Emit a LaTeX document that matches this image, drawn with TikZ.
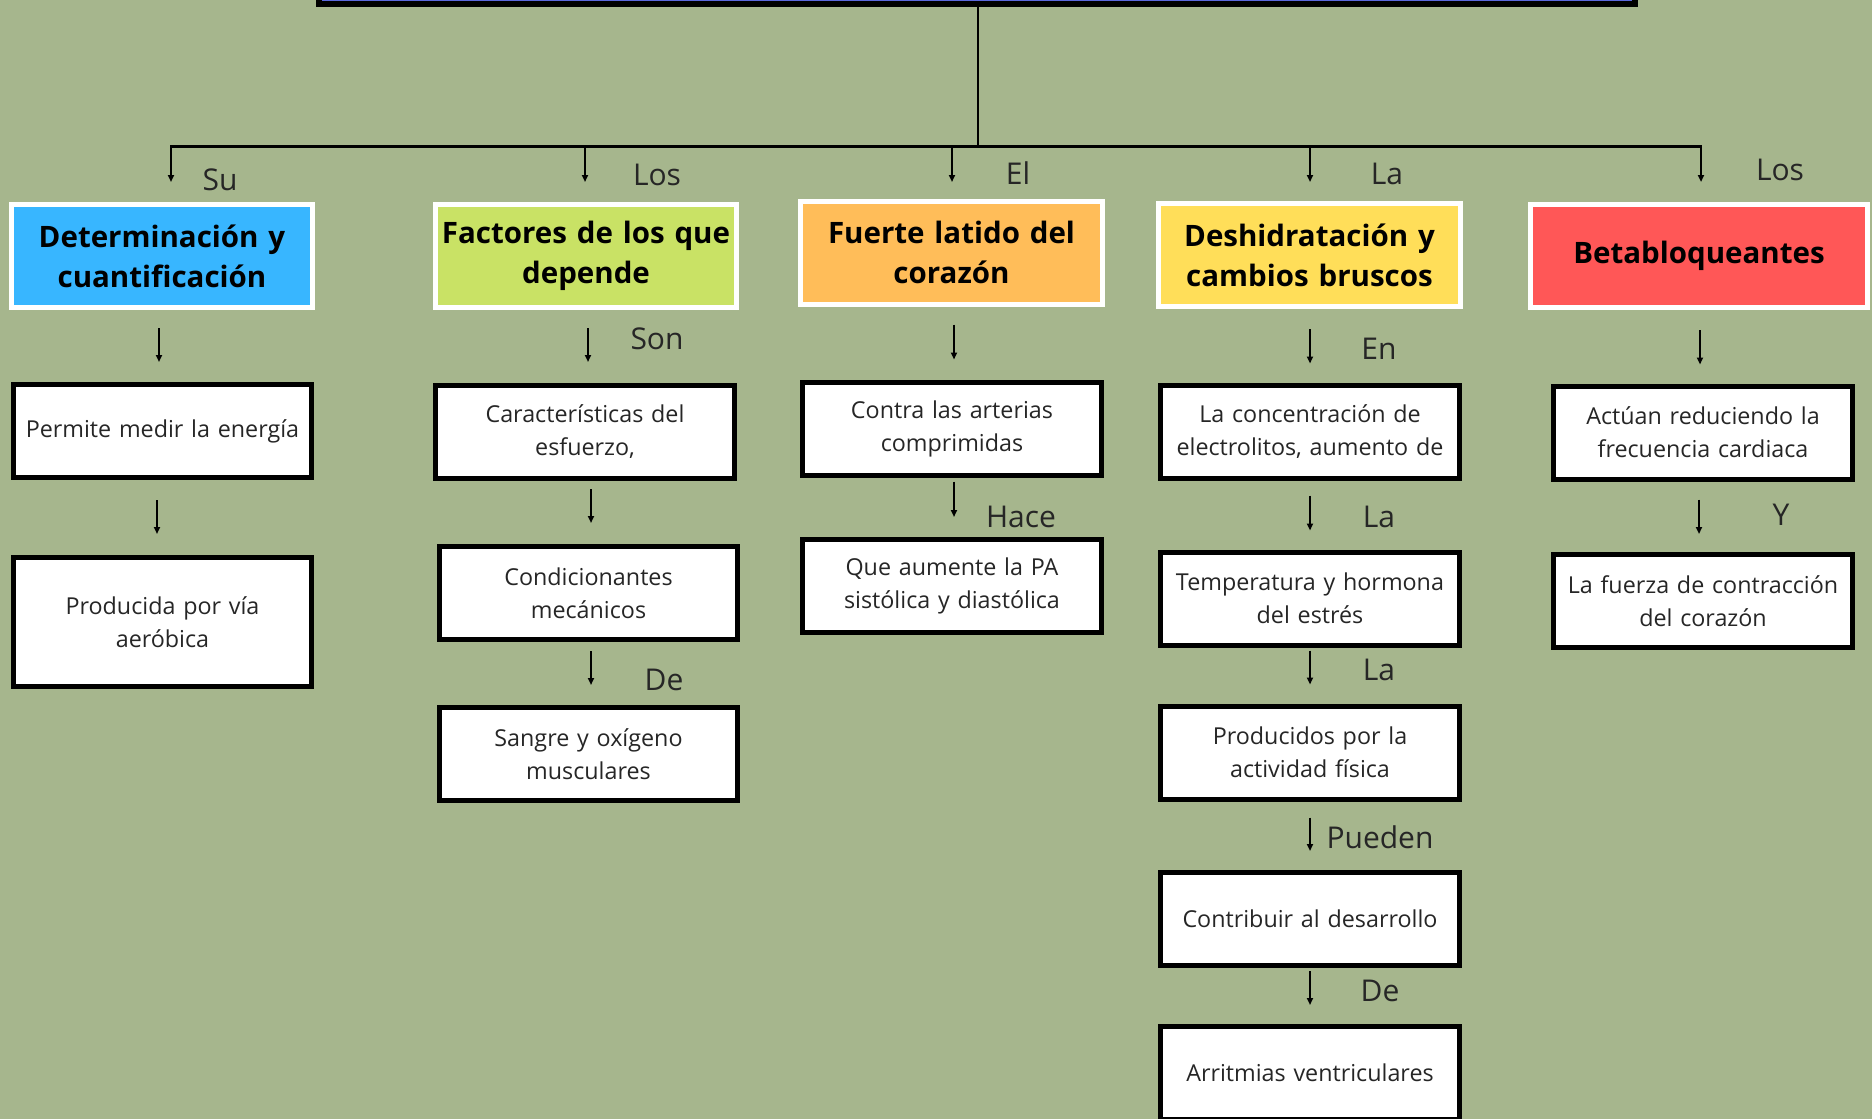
\documentclass[tikz,border=0pt]{standalone}
\usepackage{fontspec}
\setmainfont{Open Sans}
\usepackage{xcolor}
\usetikzlibrary{arrows.meta}
\definecolor{SageBack}{HTML}{A6B68D}
\definecolor{TopBlue}{HTML}{5B68DC}
\definecolor{SkyBlue}{HTML}{38B6FF}
\definecolor{LimeGreen}{HTML}{C9E265}
\definecolor{PeachOrange}{HTML}{FFBD59}
\definecolor{SunYellow}{HTML}{FFDE59}
\definecolor{CoralRed}{HTML}{FF5757}
\definecolor{InkGray}{HTML}{262626}

\tikzset{
  headbox/.style={draw=white,line width=5pt,minimum width=299pt,minimum height=103pt,
    align=center,text width=295pt,font=\bfseries\fontsize{29.5}{40}\selectfont,text=black},
  notebox/.style={draw=black,fill=white,line width=5pt,minimum width=298pt,minimum height=93pt,
    align=center,text width=292pt,font=\fontsize{23.3}{33}\selectfont,text=InkGray},
  linklabel/.style={font=\fontsize{30}{30}\selectfont,text=InkGray,inner sep=0pt},
  flow/.style={-{Triangle[length=7pt,width=6pt]},line width=1.8pt},
}

\begin{document}
\begin{tikzpicture}[x=1pt,y=-1pt]
  \fill[SageBack] (0,0) rectangle (1872,1119);
  \clip (0,0) rectangle (1872,1119);
  \useasboundingbox (0,0) rectangle (1872,1119);

  % titulo (cortado arriba)
  \node[draw=black,fill=TopBlue,line width=6pt,minimum width=1316pt,minimum height=64pt] (tema) at (977,-28) {};

  % cabeceras
  \node[headbox,fill=SkyBlue] (medida) at (162,256) {Determinación y\\cuantificación};
  \node[headbox,fill=LimeGreen] (factores) at (586,256) {Factores de los que\\depende};
  \node[headbox,fill=PeachOrange] (latido) at (951.5,252.5) {Fuerte latido del\\corazón};
  \node[headbox,fill=SunYellow] (deshidra) at (1309.5,255) {Deshidratación y\\cambios bruscos};
  \node[headbox,fill=CoralRed,minimum width=337pt] (beta) at (1699,256) {Betabloqueantes};

  % columna 1
  \node[notebox] (energia) at (162.5,431) {Permite medir la energía};
  \node[notebox,minimum height=129pt] (aerobica) at (162.5,622) {Producida por vía\\aeróbica};

  % columna 2
  \node[notebox] (esfuerzo) at (585,432) {Características del\\esfuerzo,};
  \node[notebox] (mecanicos) at (588.5,593) {Condicionantes\\mecánicos};
  \node[notebox] (oxigeno) at (588.5,754) {Sangre y oxígeno\\musculares};

  % columna 3
  \node[notebox] (arterias) at (952,428.5) {Contra las arterias\\comprimidas};
  \node[notebox] (presion) at (952,586) {Que aumente la PA\\sistólica y diastólica};

  % columna 4
  \node[notebox] (electro) at (1310,431.5) {La concentración de\\electrolitos, aumento de};
  \node[notebox] (estres) at (1310,598.5) {Temperatura y hormona\\del estrés};
  \node[notebox] (actividad) at (1310,752.5) {Producidos por la\\actividad física};
  \node[notebox] (desarrollo) at (1310,919) {Contribuir al desarrollo};
  \node[notebox] (arritmias) at (1310,1073) {Arritmias ventriculares};

  % columna 5
  \node[notebox] (frecuencia) at (1703,432.5) {Actúan reduciendo la\\frecuencia cardiaca};
  \node[notebox] (contraccion) at (1703,601) {La fuerza de contracción\\del corazón};

  % barra de reparto
  \coordinate (barleft) at (171,146);
  \coordinate (barright) at (1701,146);
  \draw[line width=1.8pt] (tema.south -| 978,0) -- (978,146);
  \draw[line width=3pt] (barleft) -- (barright);
  \foreach \x/\lx/\ly/\word in {171/220/180/Su,585/657/175/Los,952/1018/173/El,1310/1387/174/La,1701/1780/170/Los}{
    \draw[flow] (\x,145) -- (\x,182);
    \node[linklabel] at (\lx,\ly) {\word};
  }

  % flechas entre cajas
  \draw[flow] ([xshift=-3pt,yshift=-18pt]medida.south) -- ([xshift=-3.5pt,yshift=20pt]energia.north);
  \draw[flow] ([xshift=-5.5pt,yshift=-20pt]energia.south) -- ([xshift=-5.5pt,yshift=21pt]aerobica.north);

  \draw[flow] ([xshift=2pt,yshift=-18pt]factores.south) -- ([xshift=3pt,yshift=21pt]esfuerzo.north);
  \node[linklabel] at (657,339) {Son};
  \draw[flow] ([xshift=6pt,yshift=-8pt]esfuerzo.south) -- ([xshift=2.5pt,yshift=21pt]mecanicos.north);
  \draw[flow] ([xshift=2.5pt,yshift=-9pt]mecanicos.south) -- ([xshift=2.5pt,yshift=20pt]oxigeno.north);
  \node[linklabel] at (664,680) {De};

  \draw[flow] ([xshift=2.5pt,yshift=-18pt]latido.south) -- ([xshift=2pt,yshift=20pt]arterias.north);
  \draw[flow] ([xshift=2pt,yshift=-4pt]arterias.south) -- ([xshift=2pt,yshift=20pt]presion.north);
  \node[linklabel] at (1021,517) {Hace};

  \draw[flow] ([xshift=0.5pt,yshift=-20pt]deshidra.south) -- ([yshift=19pt]electro.north);
  \node[linklabel] at (1379,349) {En};
  \draw[flow] ([yshift=-15pt]electro.south) -- ([yshift=19pt]estres.north);
  \node[linklabel] at (1379,517) {La};
  \draw[flow] ([yshift=-3pt]estres.south) -- ([yshift=19pt]actividad.north);
  \node[linklabel] at (1379,670) {La};
  \draw[flow] ([yshift=-16pt]actividad.south) -- ([yshift=19pt]desarrollo.north);
  \node[linklabel] at (1380,837) {Pueden};
  \draw[flow] ([yshift=-3pt]desarrollo.south) -- ([yshift=19pt]arritmias.north);
  \node[linklabel] at (1380,991) {De};

  \draw[flow] ([xshift=1pt,yshift=-20pt]beta.south) -- ([xshift=-3pt,yshift=19pt]frecuencia.north);
  \draw[flow] ([xshift=-4pt,yshift=-18pt]frecuencia.south) -- ([xshift=-4pt,yshift=18pt]contraccion.north);
  \node[linklabel] at (1781,515) {Y};
\end{tikzpicture}
\end{document}
